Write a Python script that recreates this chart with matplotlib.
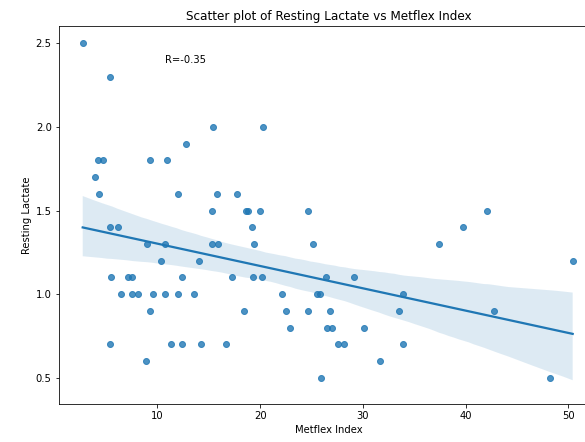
import numpy as np
import pandas as pd
import matplotlib
matplotlib.use("Agg")
import matplotlib.pyplot as plt
import seaborn as sns

# values
metflex = [2.72, 5.38, 15.37, 20.24, 12.78, 4.2, 4.7, 9.27, 10.9, 3.88,
           4.33, 11.97, 15.76, 17.77, 15.28, 18.6, 18.84, 19.98, 24.68, 5.38,
           6.13, 19.17, 39.78, 8.95, 10.73, 15.28, 15.92, 19.4, 25.17, 37.38,
           42.12, 10.34, 14.01, 50.43, 5.47, 7.16, 7.49, 12.36, 17.28, 19.27,
           20.14, 26.38, 29.16, 6.45, 7.49, 8.13, 9.53, 10.73, 11.97, 13.52,
           22.09, 25.5, 25.82, 33.88, 9.27, 18.45, 22.48, 24.68, 26.8, 33.54,
           42.8, 22.9, 26.53, 26.96, 30.1, 5.4, 11.31, 12.36, 14.24, 16.67,
           27.6, 28.16, 33.88, 8.85, 31.67, 25.89, 48.25]
lactate = [2.5, 2.3, 2.0, 2.0, 1.9, 1.8, 1.8, 1.8, 1.8, 1.7,
           1.6, 1.6, 1.6, 1.6, 1.5, 1.5, 1.5, 1.5, 1.5, 1.4,
           1.4, 1.4, 1.4, 1.3, 1.3, 1.3, 1.3, 1.3, 1.3, 1.3,
           1.5, 1.2, 1.2, 1.2, 1.1, 1.1, 1.1, 1.1, 1.1, 1.1,
           1.1, 1.1, 1.1, 1.0, 1.0, 1.0, 1.0, 1.0, 1.0, 1.0,
           1.0, 1.0, 1.0, 1.0, 0.9, 0.9, 0.9, 0.9, 0.9, 0.9,
           0.9, 0.8, 0.8, 0.8, 0.8, 0.7, 0.7, 0.7, 0.7, 0.7,
           0.7, 0.7, 0.7, 0.6, 0.6, 0.5, 0.5]
r_text = 'R=-0.35'

df = pd.DataFrame({'Metflex Index': metflex, 'Resting Lactate': lactate})

fig = plt.figure(figsize=(585/72, 442/72), dpi=72)
# axes runs past the right edge, as in the cropped original
ax = fig.add_axes([0.1003, 0.0853, 0.922, 0.8566])
sns.regplot(x='Metflex Index', y='Resting Lactate', data=df, ax=ax, seed=0)
ax.text(10.7, 2.38, r_text)
ax.set_title('Scatter plot of Resting Lactate vs Metflex Index', fontsize=12)
ax.set_xlim(0.38, 52.9)
ax.set_ylim(0.341, 2.606)
ax.set_xticks([10, 20, 30, 40, 50])
ax.set_yticks([0.5, 1.0, 1.5, 2.0, 2.5])
ax.spines['right'].set_visible(False)

fig.savefig('out.png', dpi=72)
